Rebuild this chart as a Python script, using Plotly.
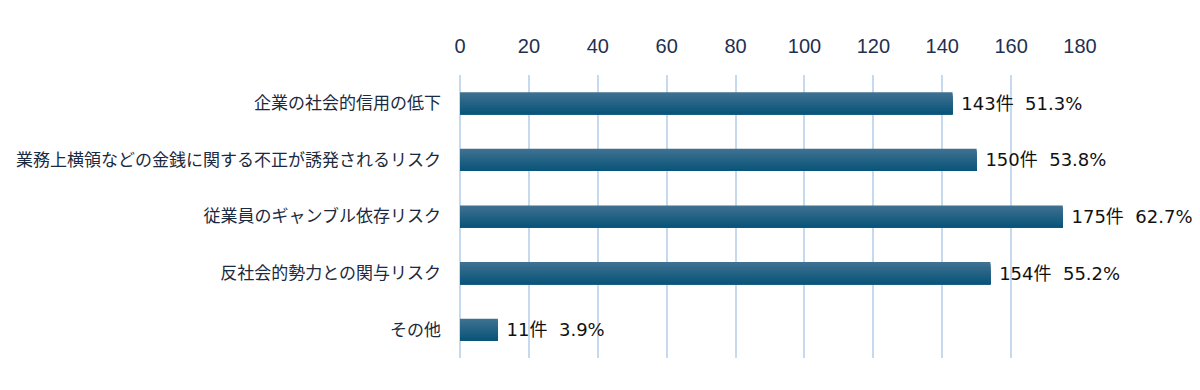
import plotly.graph_objects as go

categories = ["企業の社会的信用の低下", "業務上横領などの金銭に関する不正が誘発されるリスク",
              "従業員のギャンブル依存リスク", "反社会的勢力との関与リスク", "その他"]
counts = [143, 150, 175, 154, 11]
percents = [51.3, 53.8, 62.7, 55.2, 3.9]
x_ticks = [0, 20, 40, 60, 80, 100, 120, 140, 160, 180]

labels = [f"\u00a0{c}件\u00a0\u00a0{p:.1f}%" for c, p in zip(counts, percents)]

# vertical gradient of the bars, drawn as overlapping slices (top light -> bottom dark)
grad_top = (0x3e, 0x70, 0x90)
grad_bot = (0x0a, 0x55, 0x7a)
n_slices = 12
bar_w = 0.39

fig = go.Figure()
for i in range(n_slices):
    t = i / (n_slices - 1)
    col = tuple(round(a + (b - a) * t) for a, b in zip(grad_top, grad_bot))
    w = bar_w * (n_slices - i) / n_slices
    first = i == 0
    fig.add_trace(go.Bar(
        x=counts, y=categories, orientation="h",
        marker=dict(color="rgb(%d,%d,%d)" % col, line=dict(width=0)),
        width=w, offset=bar_w / 2 - w,
        text=labels if first else None,
        textposition="outside" if first else "none",
        cliponaxis=False, constraintext="none",
        textfont=dict(family="DejaVu Sans, Noto Sans CJK JP", size=18, color="#111111"),
        hoverinfo=None if first else "skip",
    ))

fig.update_layout(
    width=1200, height=390,
    barmode="overlay",
    margin=dict(l=452, r=128, t=67, b=40, autoexpand=False),
    paper_bgcolor="white", plot_bgcolor="white",
    showlegend=False,
    font=dict(family="Noto Sans CJK JP"),
)
fig.update_xaxes(
    side="top", range=[0, 180], tickvals=x_ticks, automargin=False,
    showgrid=True, gridcolor="#c6d9ef", gridwidth=2,
    zeroline=True, zerolinecolor="#c6d9ef", zerolinewidth=2,
    showline=False, ticks="",
    tickfont=dict(family="Liberation Sans", size=20, color="#1f3050"),
    ticklabelstandoff=17,
)
fig.update_yaxes(
    categoryorder="array", categoryarray=categories, autorange="reversed",
    automargin=False,
    showgrid=False, zeroline=False, showline=False, ticks="",
    tickfont=dict(family="Noto Sans CJK JP", size=17, color="#1a2a40"),
    ticklabelstandoff=18,
)

fig.write_html("out.html")
